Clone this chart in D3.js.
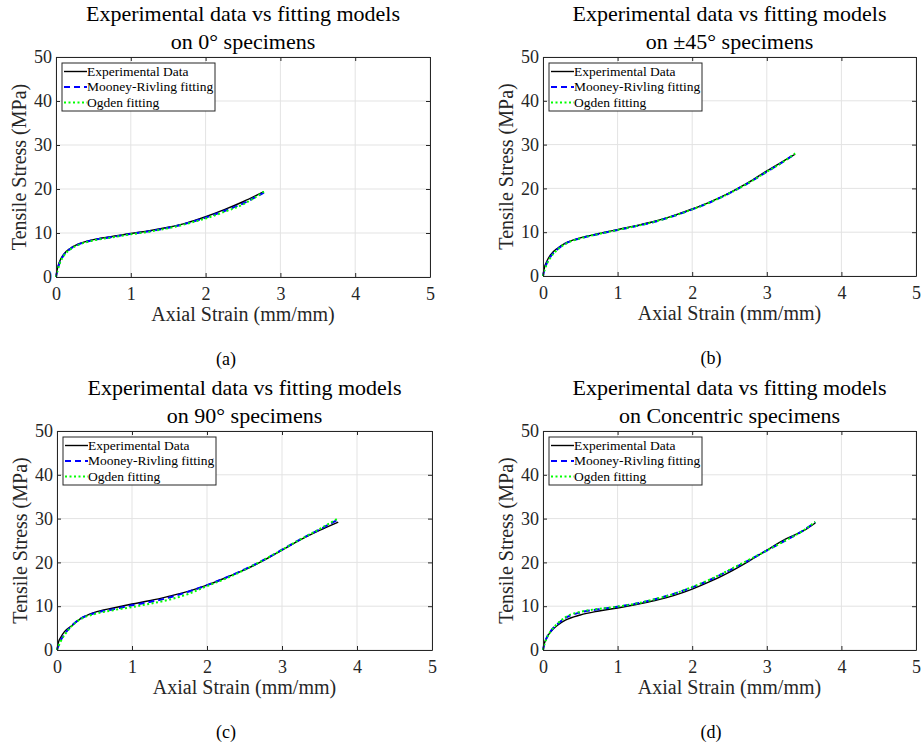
<!DOCTYPE html>
<html>
<head>
<meta charset="utf-8">
<script src="https://cdn.jsdelivr.net/npm/d3@7"></script>
<style>
  body { margin: 0; background: #fff; }
  svg { display: block; }
  svg text { font-family: 'Liberation Serif', 'DejaVu Serif', serif !important; fill: #262626; }
</style>
</head>
<body>
<svg width="922" height="748"></svg>
<script>
/* global d3 */
var svg = d3.select('svg')

// strain values (mm/mm) and stress values (MPa)
var strainA = [0, 0.02, 0.05, 0.1, 0.2, 0.3, 0.5, 0.75, 1, 1.25, 1.5, 1.75, 2, 2.25, 2.5, 2.78]
var expA = [0, 2, 3.6, 5.1, 6.6, 7.5, 8.5, 9.2, 9.9, 10.5, 11.3, 12.3, 13.7, 15.3, 17.1, 19.4]
var mooneyA = [0, 1.6, 3.3, 4.9, 6.5, 7.4, 8.4, 9.1, 9.8, 10.4, 11.2, 12.2, 13.5, 15.0, 16.7, 19.2]
var ogdenA = [0, 1.4, 3.1, 4.7, 6.4, 7.3, 8.3, 9.0, 9.7, 10.3, 11.1, 12.1, 13.3, 14.8, 16.5, 19.4]

var strainB = [0, 0.02, 0.05, 0.1, 0.2, 0.3, 0.5, 0.75, 1, 1.25, 1.5, 1.75, 2, 2.25, 2.5, 2.75, 3, 3.25, 3.38]
var expB = [0, 2, 3.3, 4.8, 6.4, 7.5, 8.7, 9.7, 10.6, 11.5, 12.5, 13.8, 15.3, 17.0, 19.0, 21.3, 24.0, 26.5, 27.8]
var mooneyB = [0, 1.5, 2.9, 4.4, 6.2, 7.4, 8.6, 9.6, 10.5, 11.4, 12.4, 13.7, 15.2, 16.9, 18.9, 21.2, 23.8, 26.4, 27.9]
var ogdenB = [0, 1.3, 2.7, 4.2, 6.1, 7.3, 8.6, 9.6, 10.5, 11.4, 12.4, 13.7, 15.2, 16.9, 18.9, 21.2, 23.8, 26.4, 28.0]

var strainC = [0, 0.02, 0.05, 0.1, 0.2, 0.3, 0.5, 0.75, 1, 1.25, 1.5, 1.75, 2, 2.25, 2.5, 2.75, 3, 3.25, 3.5, 3.75]
var expC = [0, 1.8, 2.9, 4.2, 5.6, 7.0, 8.6, 9.6, 10.5, 11.3, 12.3, 13.4, 14.8, 16.5, 18.3, 20.4, 22.8, 25.2, 27.3, 29.2]
var mooneyC = [0, 1.0, 2.2, 3.6, 5.6, 7.0, 8.4, 9.3, 10.2, 11.0, 12.0, 13.3, 14.8, 16.5, 18.4, 20.5, 22.9, 25.3, 27.5, 29.8]
var ogdenC = [0, 0.9, 2.0, 3.4, 5.5, 6.9, 8.2, 9.1, 9.8, 10.6, 11.5, 12.8, 14.6, 16.3, 18.3, 20.5, 22.9, 25.3, 27.6, 30.1]

var strainD = [0, 0.02, 0.05, 0.1, 0.2, 0.3, 0.5, 0.75, 1, 1.25, 1.5, 1.75, 2, 2.25, 2.5, 2.75, 3, 3.25, 3.5, 3.65]
var expD = [0, 1.6, 2.8, 4.1, 5.7, 6.8, 8.0, 8.9, 9.6, 10.4, 11.3, 12.4, 13.9, 15.7, 17.8, 20.2, 22.8, 25.3, 27.3, 29.0]
var mooneyD = [0, 1.5, 2.8, 4.2, 6.0, 7.3, 8.6, 9.3, 9.9, 10.6, 11.6, 12.8, 14.3, 16.1, 18.2, 20.4, 22.7, 25.0, 27.4, 29.2]
var ogdenD = [0, 1.4, 2.7, 4.2, 6.1, 7.5, 8.7, 9.4, 9.9, 10.6, 11.6, 12.8, 14.4, 16.2, 18.3, 20.5, 22.7, 25.0, 27.4, 29.3]

var xTicks = [0, 1, 2, 3, 4, 5]
var yTicks = [0, 10, 20, 30, 40, 50]
var seriesNames = ['Experimental Data', 'Mooney-Rivling fitting', 'Ogden fitting']
var titleLine1 = 'Experimental data vs fitting models'
var titleLine2 = ['on 0° specimens', 'on ±45° specimens', 'on 90° specimens', 'on Concentric specimens']
var subLabels = ['(a)', '(b)', '(c)', '(d)']

var panels = [
  { left: 56, top: 57, right: 430, bottom: 277, cap: 226, strain: strainA, series: [expA, mooneyA, ogdenA] },
  { left: 543, top: 57, right: 916, bottom: 276, cap: 711, strain: strainB, series: [expB, mooneyB, ogdenB] },
  { left: 57, top: 431, right: 432, bottom: 650, cap: 226, strain: strainC, series: [expC, mooneyC, ogdenC] },
  { left: 543, top: 431, right: 916, bottom: 650, cap: 711, strain: strainD, series: [expD, mooneyD, ogdenD] }
]

var styles = [
  { color: '#000000', width: 1.4, dash: null },
  { color: '#0000ff', width: 2, dash: '6,4' },
  { color: '#00ff00', width: 2, dash: '2,2.5' }
]

panels.forEach(function (p, i) {
  var x = d3.scaleLinear().domain([0, 5]).range([p.left, p.right])
  var y = d3.scaleLinear().domain([0, 50]).range([p.bottom, p.top])
  var g = svg.append('g')
  var cx = (p.left + p.right) / 2

  // grid
  g.append('g').selectAll('line').data(xTicks).enter().append('line')
    .attr('x1', d => x(d)).attr('x2', d => x(d))
    .attr('y1', p.top).attr('y2', p.bottom)
    .attr('stroke', '#e3e3e3').attr('stroke-width', 1)
  g.append('g').selectAll('line').data(yTicks).enter().append('line')
    .attr('y1', d => y(d)).attr('y2', d => y(d))
    .attr('x1', p.left).attr('x2', p.right)
    .attr('stroke', '#e3e3e3').attr('stroke-width', 1)

  // curves
  var line = d3.line()
    .x((d, k) => x(p.strain[k]))
    .y(d => y(d))
    .curve(d3.curveMonotoneX)
  p.series.forEach(function (vals, k) {
    g.append('path')
      .datum(vals)
      .attr('d', line)
      .attr('fill', 'none')
      .attr('stroke', styles[k].color)
      .attr('stroke-width', styles[k].width)
      .attr('stroke-dasharray', styles[k].dash)
  })

  // axes box with inward ticks on all sides
  var fmt = d3.format('d')
  var axB = d3.axisBottom(x).tickValues(xTicks).tickFormat(fmt).tickSizeInner(-4).tickSizeOuter(0).tickPadding(10)
  var axL = d3.axisLeft(y).tickValues(yTicks).tickFormat(fmt).tickSizeInner(-4).tickSizeOuter(0).tickPadding(4)
  var axT = d3.axisTop(x).tickValues(xTicks).tickSizeInner(-4).tickSizeOuter(0).tickFormat('')
  var axR = d3.axisRight(y).tickValues(yTicks).tickSizeInner(-4).tickSizeOuter(0).tickFormat('')
  var gb = g.append('g').attr('transform', 'translate(0,' + p.bottom + ')').call(axB)
  var gl = g.append('g').attr('transform', 'translate(' + p.left + ',0)').call(axL)
  var gt = g.append('g').attr('transform', 'translate(0,' + p.top + ')').call(axT)
  var gr = g.append('g').attr('transform', 'translate(' + p.right + ',0)').call(axR);
  [gb, gl, gt, gr].forEach(function (a) {
    a.attr('font-family', null)
    a.select('.domain').attr('stroke', '#262626').attr('stroke-width', 1)
    a.selectAll('.tick line').attr('stroke', '#262626')
    a.selectAll('.tick text').style('font-size', '18px').attr('fill', '#262626')
  })

  // titles
  g.append('text').attr('x', cx).attr('y', p.top - 36).attr('text-anchor', 'middle')
    .style('font-size', '22px').style('fill', '#000').text(titleLine1)
  g.append('text').attr('x', cx).attr('y', p.top - 8).attr('text-anchor', 'middle')
    .style('font-size', '22px').style('fill', '#000').text(titleLine2[i])

  // axis labels
  g.append('text').attr('x', cx).attr('y', p.bottom + 44).attr('text-anchor', 'middle')
    .style('font-size', '20px').text('Axial Strain (mm/mm)')
  g.append('text')
    .attr('transform', 'translate(' + (p.left - 30) + ',' + ((p.top + p.bottom) / 2) + ') rotate(-90)')
    .attr('text-anchor', 'middle').style('font-size', '20px').text('Tensile Stress (MPa)')

  // sub caption
  g.append('text').attr('x', p.cap).attr('y', p.bottom + 88).attr('text-anchor', 'middle')
    .style('font-size', '18px').style('fill', '#000').text(subLabels[i])

  // legend
  var lg = g.append('g').attr('transform', 'translate(' + (p.left + 6) + ',' + (p.top + 6) + ')')
  lg.append('rect').attr('width', 153).attr('height', 48)
    .attr('fill', '#fff').attr('stroke', '#262626').attr('stroke-width', 1)
  seriesNames.forEach(function (name, k) {
    var ly = 8.5 + k * 15.5
    lg.append('line').attr('x1', 2).attr('x2', 25).attr('y1', ly).attr('y2', ly)
      .attr('stroke', styles[k].color).attr('stroke-width', styles[k].width)
      .attr('stroke-dasharray', styles[k].dash)
    lg.append('text').attr('x', 25).attr('y', ly + 4)
      .style('font-size', '13.5px').style('fill', '#000').text(name)
  })
})
</script>
</body>
</html>
